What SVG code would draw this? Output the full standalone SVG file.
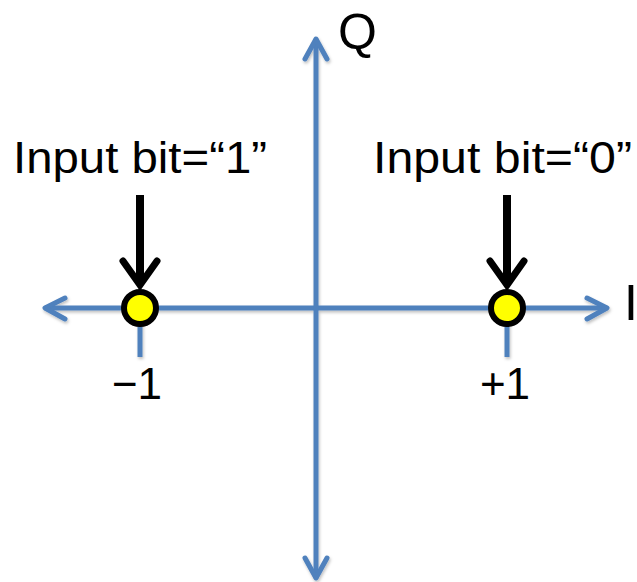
<svg xmlns="http://www.w3.org/2000/svg" width="637" height="582" viewBox="0 0 637 582">
<style>
.axis{stroke:#4f81bd;stroke-width:5;fill:none;stroke-linecap:round;stroke-linejoin:round}
.tick{stroke:#4f81bd;stroke-width:5;fill:none}
.inarrow{stroke:#000;stroke-width:8;fill:none}
.inhead{stroke:#000;stroke-width:7;fill:none;stroke-linecap:round;stroke-linejoin:miter}
.pt{fill:#ffff00;stroke:#000;stroke-width:6}
text{font-family:"Liberation Sans",Arial,sans-serif;fill:#000}
.lbl{font-size:44px}
.ax{font-size:50px}
</style>
<defs>
<filter id="sh" x="-10%" y="-10%" width="120%" height="120%">
<feDropShadow dx="1" dy="2" stdDeviation="1.5" flood-color="#000" flood-opacity="0.25"/>
</filter>
</defs>
<g id="connectors">
<g id="axes" filter="url(#sh)">
<path class="axis" d="M46 308H606"/>
<path class="axis" d="M65 298L45 308L65 319"/>
<path class="axis" d="M587 298L607 308L587 319"/>
<path class="axis" d="M316 40V577"/>
<path class="axis" d="M305 59L316 39L327 59"/>
<path class="axis" d="M305 558L316 578L327 558"/>
<path class="tick" d="M140 308V357"/>
<path class="tick" d="M507 308V357"/>
</g>
<g id="arrow-1">
<path class="inarrow" d="M140 195V283"/>
<path class="inhead" d="M123 261L140 285L157 261"/>
</g>
<g id="arrow-0">
<path class="inarrow" d="M507 195V283"/>
<path class="inhead" d="M490 261L507 285L524 261"/>
</g>
</g>
<g id="point-minus1">
<circle class="pt" cx="140" cy="308" r="16"/>
</g>
<g id="point-plus1">
<circle class="pt" cx="507" cy="308" r="16"/>
</g>
<g id="labels">
<text class="lbl" x="13" y="173" textLength="254" lengthAdjust="spacingAndGlyphs">Input bit=“1”</text>
<text class="lbl" x="373" y="173" textLength="259" lengthAdjust="spacingAndGlyphs">Input bit=“0”</text>
<text class="lbl" x="137" y="399" text-anchor="middle">−1</text>
<text class="lbl" x="505" y="399" text-anchor="middle">+1</text>
<text class="ax" x="338" y="49">Q</text>
<text class="ax" x="624" y="320">I</text>
</g>
</svg>
